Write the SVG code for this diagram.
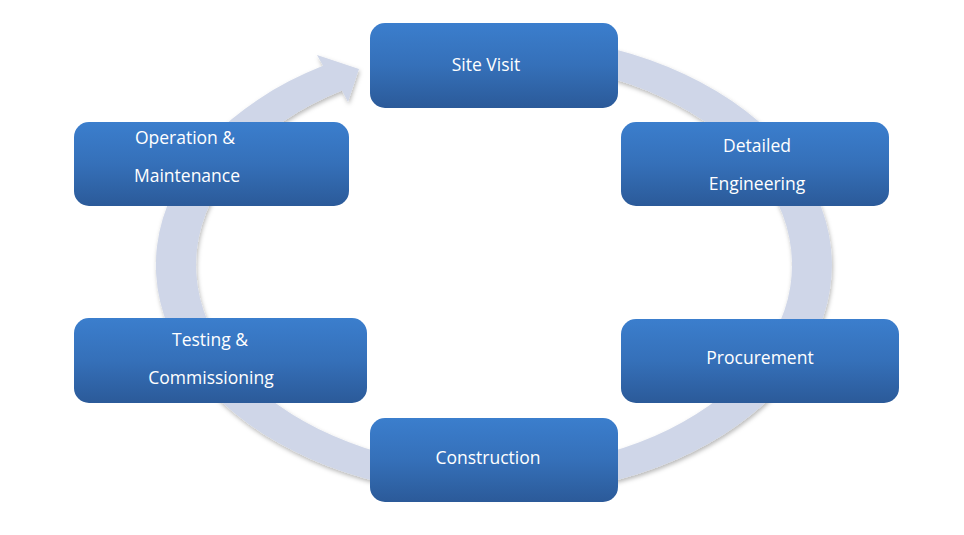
<svg xmlns="http://www.w3.org/2000/svg" width="964" height="535" viewBox="0 0 964 535">
  <defs>
    <linearGradient id="boxGrad" x1="0" y1="0" x2="0" y2="1">
      <stop offset="0" stop-color="#3B7ECD"/>
      <stop offset="0.5" stop-color="#3570B9"/>
      <stop offset="1" stop-color="#2B5A99"/>
    </linearGradient>
    <filter id="ringShadow" x="-10%" y="-10%" width="120%" height="120%">
      <feDropShadow dx="1" dy="2.5" stdDeviation="2" flood-color="#000000" flood-opacity="0.28"/>
    </filter>
  </defs>
  <style>
    .box { fill: url(#boxGrad); }
    .lbl { fill: #FFFFFF; font-family: "Open Sans", "Liberation Sans", sans-serif; font-size: 17.5px; text-anchor: middle; }
    .ring { fill: #CFD6E8; filter: url(#ringShadow); }
  </style>
  <rect width="964" height="535" fill="#FFFFFF"/>

  <g id="connectors">
    <path class="ring" d="M 494,34 A 338 231 0 1 1 323,65.7 L 317,55 L 359,69 L 348,102 L 342,90.4 A 298 203 0 1 0 494,62 Z"/>
  </g>

  <g id="node-site-visit">
    <rect class="box" x="370" y="23" width="248" height="85" rx="15" ry="15"/>
    <text class="lbl" x="486" y="71">Site Visit</text>
  </g>

  <g id="node-detailed-engineering">
    <rect class="box" x="621" y="122" width="268" height="84" rx="15" ry="15"/>
    <text class="lbl" x="757" y="152">Detailed</text>
    <text class="lbl" x="757" y="190">Engineering</text>
  </g>

  <g id="node-procurement">
    <rect class="box" x="621" y="319" width="278" height="84" rx="15" ry="15"/>
    <text class="lbl" x="760" y="364">Procurement</text>
  </g>

  <g id="node-construction">
    <rect class="box" x="370" y="418" width="248" height="84" rx="15" ry="15"/>
    <text class="lbl" x="488" y="464">Construction</text>
  </g>

  <g id="node-testing-commissioning">
    <rect class="box" x="74" y="318" width="293" height="85" rx="15" ry="15"/>
    <text class="lbl" x="210" y="346">Testing &amp;</text>
    <text class="lbl" x="211" y="384">Commissioning</text>
  </g>

  <g id="node-operation-maintenance">
    <rect class="box" x="74" y="122" width="275" height="84" rx="15" ry="15"/>
    <text class="lbl" x="185" y="144">Operation &amp;</text>
    <text class="lbl" x="187" y="182">Maintenance</text>
  </g>
</svg>
